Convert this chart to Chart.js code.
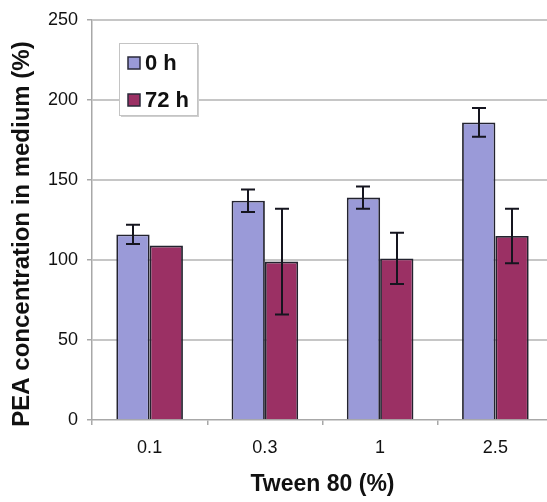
<!DOCTYPE html>
<html>
<head>
<meta charset="utf-8">
<script src="https://cdn.jsdelivr.net/npm/chart.js@4.4.1/dist/chart.umd.min.js"></script>
<style>
  html, body { margin: 0; padding: 0; background: #fff; overflow: hidden; }
  #frame { width: 547px; height: 502px; overflow: hidden; }
  #wrap { width: 553px; height: 502px; position: relative; }
</style>
</head>
<body>
<div id="frame"><div id="wrap"><canvas id="pea-chart"></canvas></div></div>
<script>
// Tween 80 concentrations and PEA levels (mean, error)
const tweenLevels = ['0.1', '0.3', '1', '2.5'];
const pea0h = [116, 137, 139, 186];
const pea0hErr = [6, 7, 7, 9];
const pea72h = [109, 99, 101, 115];
const pea72hErr = [0, 33, 16, 17];
const yTicks = [0, 50, 100, 150, 200, 250];
const yTitle = 'PEA concentration in medium (%)';

const FONT = 'Arial, "Liberation Sans", sans-serif';

// horizontal gridlines, running out to the right edge of the canvas
const gridPlugin = {
    id: 'gridLines',
    beforeDatasetsDraw(chart) {
        const { ctx, chartArea, scales } = chart;
        ctx.save();
        ctx.strokeStyle = '#c6c6c6';
        ctx.lineWidth = 2;
        yTicks.forEach((v) => {
            if (v === 0) return;
            const y = Math.round(scales.y.getPixelForValue(v));
            ctx.beginPath();
            ctx.moveTo(chartArea.left, y);
            ctx.lineTo(chart.width, y);
            ctx.stroke();
        });
        ctx.restore();
    },
};

// error bars on top of each bar
const errorPlugin = {
    id: 'errorBars',
    afterDatasetsDraw(chart) {
        const { ctx, scales } = chart;
        const errs = [pea0hErr, pea72hErr];
        ctx.save();
        ctx.strokeStyle = '#15151f';
        ctx.lineWidth = 2;
        chart.data.datasets.forEach((ds, di) => {
            const meta = chart.getDatasetMeta(di);
            meta.data.forEach((bar, i) => {
                const e = errs[di][i];
                if (!e) return;
                const v = ds.data[i];
                const x = Math.round(bar.x);
                const yTop = scales.y.getPixelForValue(v + e);
                const yBot = scales.y.getPixelForValue(v - e);
                ctx.beginPath();
                ctx.moveTo(x, yTop);
                ctx.lineTo(x, yBot);
                ctx.moveTo(x - 7, yTop);
                ctx.lineTo(x + 7, yTop);
                ctx.moveTo(x - 7, yBot);
                ctx.lineTo(x + 7, yBot);
                ctx.stroke();
            });
        });
        ctx.restore();
    },
};

// rotated y title, boxed legend in the upper left of the plot
const legendPlugin = {
    id: 'boxLegend',
    afterDraw(chart) {
        const { ctx, chartArea } = chart;

        ctx.save();
        ctx.translate(22, 234);
        ctx.rotate(-Math.PI / 2);
        ctx.font = 'bold 24px ' + FONT;
        ctx.fillStyle = '#111';
        ctx.textAlign = 'center';
        ctx.textBaseline = 'middle';
        ctx.fillText(yTitle, 0, 0);
        ctx.restore();

        const x = chartArea.left + 27;
        const y = chartArea.top + 23;
        const w = 78;
        const h = 72;
        ctx.save();
        ctx.fillStyle = '#cfcfcf';
        ctx.fillRect(x + 2, y + 2, w, h);
        ctx.fillStyle = '#fff';
        ctx.fillRect(x, y, w, h);
        ctx.strokeStyle = '#c4c4c4';
        ctx.lineWidth = 1;
        ctx.strokeRect(x + 0.5, y + 0.5, w, h);
        ctx.font = 'bold 22px ' + FONT;
        ctx.textBaseline = 'middle';
        chart.data.datasets.forEach((ds, i) => {
            const cy = y + 20 + i * 37;
            ctx.fillStyle = ds.backgroundColor;
            ctx.fillRect(x + 9, cy - 6, 12, 12);
            ctx.strokeStyle = '#2a2a3a';
            ctx.lineWidth = 1.5;
            ctx.strokeRect(x + 9, cy - 6, 12, 12);
            ctx.fillStyle = '#111';
            ctx.fillText(ds.label, x + 26, cy + 1);
        });
        ctx.restore();
    },
};

new Chart(document.getElementById('pea-chart'), {
    type: 'bar',
    data: {
        labels: tweenLevels,
        datasets: [
            {
                label: '0 h',
                data: pea0h,
                backgroundColor: '#9a9ad8',
                borderColor: '#23232f',
                borderWidth: 1.8,
            },
            {
                label: '72 h',
                data: pea72h,
                backgroundColor: '#9b3064',
                borderColor: '#23232f',
                borderWidth: 1.8,
            },
        ],
    },
    options: {
        responsive: true,
        maintainAspectRatio: false,
        animation: false,
        layout: { padding: { top: 20, right: 0, left: 0, bottom: 0 } },
        datasets: {
            bar: { categoryPercentage: 0.578, barPercentage: 1.0 },
        },
        plugins: {
            legend: { display: false },
            tooltip: { enabled: false },
        },
        scales: {
            x: {
                offset: true,
                afterFit: (s) => { s.height = 82; },
                grid: {
                    offset: true,
                    drawOnChartArea: false,
                    tickLength: 5,
                    color: '#a8a8a8',
                    lineWidth: 1.5,
                },
                border: { color: '#a8a8a8', width: 1.5 },
                ticks: {
                    padding: 12,
                    color: '#111',
                    font: { family: FONT, size: 18 },
                },
                title: {
                    display: true,
                    text: 'Tween 80 (%)',
                    color: '#111',
                    font: { family: FONT, size: 23, weight: 'bold' },
                    padding: { top: 0, bottom: 4 },
                },
            },
            y: {
                min: 0,
                max: 250,
                afterFit: (s) => { s.width = 92; },
                afterBuildTicks: (s) => { s.ticks = yTicks.map((v) => ({ value: v })); },
                grid: {
                    drawOnChartArea: false,
                    tickLength: 5,
                    color: '#a8a8a8',
                    lineWidth: 1.5,
                },
                border: { color: '#a8a8a8', width: 1.5 },
                ticks: {
                    padding: 9,
                    color: '#111',
                    font: { family: FONT, size: 18 },
                },
            },
        },
    },
    plugins: [gridPlugin, errorPlugin, legendPlugin],
});
</script>
</body>
</html>
